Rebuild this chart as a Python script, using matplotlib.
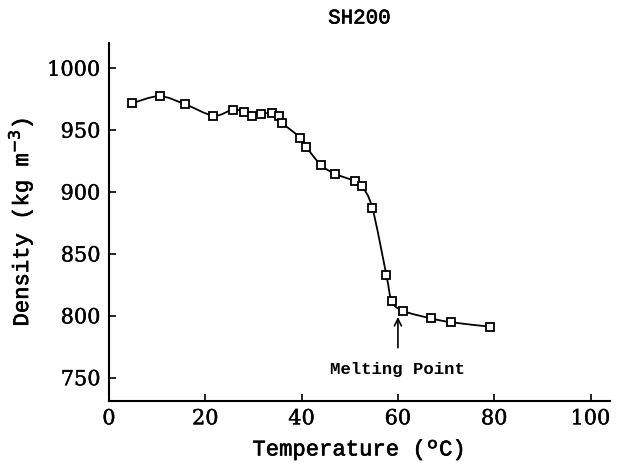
import numpy as np
import matplotlib
matplotlib.use("Agg")
import matplotlib.pyplot as plt
import matplotlib.patheffects as pe
from matplotlib.path import Path
from matplotlib.patches import PathPatch

temperature = [4.8, 10.5, 15.8, 21.7, 25.7, 28.1, 29.6, 31.6, 33.8, 35.4, 36.0,
               39.7, 41.0, 44.0, 46.9, 51.0, 52.5, 54.7, 57.6, 58.7, 61.0,
               66.8, 71.1, 79.2]
density = [971.7, 977.4, 970.9, 961.7, 966.5, 964.7, 961.7, 963.1, 963.9, 961.2,
           955.8, 943.9, 936.2, 921.9, 914.8, 908.9, 904.9, 886.9, 833.0, 812.2,
           804.1, 798.0, 794.8, 791.2]
melting_point = 60
x_ticks = [0, 20, 40, 60, 80, 100]
y_ticks = [750, 800, 850, 900, 950, 1000]


def smooth_path(x, y, k=1/6):
    # catmull-rom through the points, drawn as cubic bezier segments
    x = np.asarray(x, float)
    y = np.asarray(y, float)
    verts = [(x[0], y[0])]
    codes = [Path.MOVETO]
    n = len(x)
    for i in range(n - 1):
        i0 = max(i - 1, 0)
        i3 = min(i + 2, n - 1)
        c1 = (x[i] + (x[i + 1] - x[i0]) * k, y[i] + (y[i + 1] - y[i0]) * k)
        c2 = (x[i + 1] - (x[i3] - x[i]) * k, y[i + 1] - (y[i3] - y[i]) * k)
        verts += [c1, c2, (x[i + 1], y[i + 1])]
        codes += [Path.CURVE4] * 3
    return Path(verts, codes)


serif = "DejaVu Serif"
mono = "Liberation Mono"

fig = plt.figure(figsize=(6.21, 4.65), dpi=100)
ax = fig.add_axes([0.1755, 0.1376, 0.8065, 0.77])

ax.add_patch(PathPatch(smooth_path(temperature, density), fill=False,
                       lw=1.3, color="black", zorder=2))
ax.plot(temperature, density, linestyle="none", marker="s", markersize=5.5,
        mfc="white", mec="black", mew=1.3, zorder=3)

ax.annotate("Melting Point", xy=(melting_point, 799), xytext=(melting_point, 757),
            ha="center", va="center", fontsize=12.5, fontweight="bold", family=mono,
            arrowprops=dict(arrowstyle="->", lw=1.2, color="black",
                            shrinkA=8, shrinkB=0))

ax.set_xlim(0, 104)
ax.set_ylim(731.2, 1020.4)
ax.set_xticks(x_ticks)
ax.set_yticks(y_ticks)
ax.spines["top"].set_visible(False)
ax.spines["right"].set_visible(False)
ax.spines["left"].set_linewidth(1.5)
ax.spines["bottom"].set_linewidth(1.5)
ax.tick_params(direction="in", length=5, width=1.2, labelsize=15, pad=6)
for lab in ax.get_xticklabels() + ax.get_yticklabels():
    lab.set_family(serif)
    lab.set_path_effects([pe.withStroke(linewidth=0.3, foreground="black")])

xl = ax.set_xlabel("Temperature (ºC)", family=mono, fontsize=16, labelpad=8)
yl = ax.set_ylabel("Density (kg m$^{-3}$)", family=mono, fontsize=16, labelpad=8)
tl = ax.set_title("SH200", family=mono, fontsize=15, pad=14)
for t in (xl, yl, tl):
    t.set_path_effects([pe.withStroke(linewidth=0.45, foreground="black")])

fig.savefig("out.png", dpi=100)
